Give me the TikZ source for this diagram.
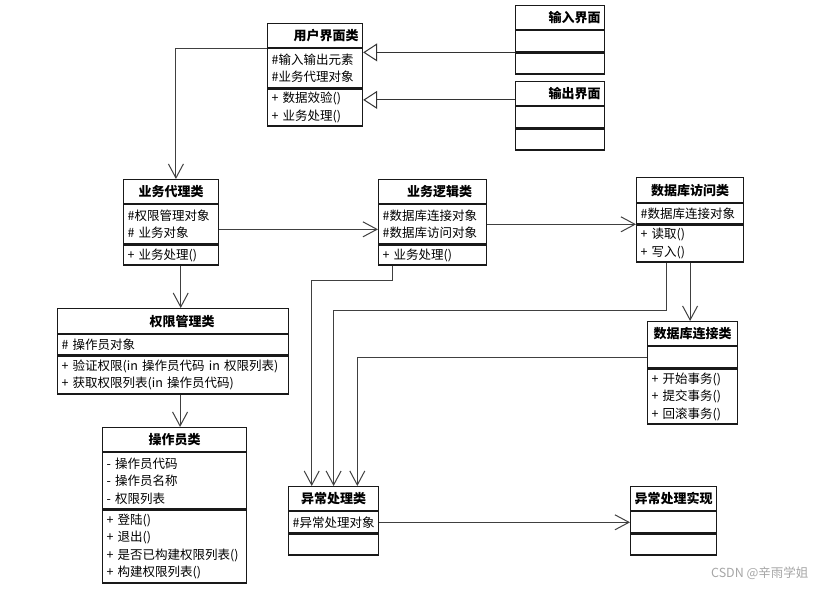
\documentclass[tikz,border=0pt]{standalone}
\usepackage{fontspec}
\setmainfont{Noto Sans CJK SC}
\usetikzlibrary{positioning,calc,arrows.meta}

\tikzset{
  ttl/.style={draw=black!90, line width=1.2pt, anchor=north west, inner xsep=4pt, inner ysep=0pt, align=center, font=\bfseries\fontsize{13}{15}\selectfont},
  cmp/.style={draw=black!90, line width=1.2pt, inner xsep=4pt, inner ysep=0pt, align=left, font=\fontsize{12.5}{17.5}\selectfont},
  dep/.style={draw=black!75, line width=1pt, -{Straight Barb[length=14pt,width=15pt]}},
  gen/.style={draw=black!80, line width=1pt, -{Triangle[open,length=14pt,width=18pt,fill=white]}},
}

\begin{document}
\begin{tikzpicture}[x=1pt,y=1pt,yscale=-1,xscale=1]
        \useasboundingbox (0,0) rectangle (824,589);
        %Class: 用户界面类
        \node[ttl, align=right, text width=87pt, minimum height=24pt] (ui) at (267,23) {用户界面类};
        \node[cmp, text width=87pt, minimum height=39pt, below=0pt of ui] (ui-a) {\#输入输出元素\\\#业务代理对象};
        \node[cmp, text width=87pt, minimum height=37pt, below=0pt of ui-a] (ui-m) {+ 数据效验()\\+ 业务处理()};
        %Class: 输入界面
        \node[ttl, align=right, text width=81pt, minimum height=24pt] (in) at (515,5) {输入界面};
        \node[cmp, text width=81pt, minimum height=21pt, below=0pt of in] (in-a) {};
        \node[cmp, text width=81pt, minimum height=21pt, below=0pt of in-a] (in-m) {};
        %Class: 输出界面
        \node[ttl, align=right, text width=81pt, minimum height=24pt] (out) at (515,81) {输出界面};
        \node[cmp, text width=81pt, minimum height=21pt, below=0pt of out] (out-a) {};
        \node[cmp, text width=81pt, minimum height=21pt, below=0pt of out-a] (out-m) {};
        %Class: 业务代理类
        \node[ttl, text width=87pt, minimum height=24pt] (agent) at (123,179) {业务代理类};
        \node[cmp, text width=87pt, minimum height=39pt, below=0pt of agent] (agent-a) {\#权限管理对象\\\# 业务对象};
        \node[cmp, text width=87pt, minimum height=20pt, below=0pt of agent-a] (agent-m) {+ 业务处理()};
        %Class: 业务逻辑类
        \node[ttl, text width=100pt, minimum height=24pt] (logic) at (378,179) {\hspace*{14pt}业务逻辑类};
        \node[cmp, text width=100pt, minimum height=39pt, below=0pt of logic] (logic-a) {\#数据库连接对象\\\#数据库访问对象};
        \node[cmp, text width=100pt, minimum height=20pt, below=0pt of logic-a] (logic-m) {+ 业务处理()};
        %Class: 数据库访问类
        \node[ttl, text width=99pt, minimum height=25pt] (dba) at (636,177) {数据库访问类};
        \node[cmp, text width=99pt, minimum height=20pt, below=0pt of dba] (dba-a) {\#数据库连接对象};
        \node[cmp, text width=99pt, minimum height=37pt, below=0pt of dba-a] (dba-m) {+ 读取()\\+ 写入()};
        %Class: 数据库连接类
        \node[ttl, text width=82pt, minimum height=24pt] (dbc) at (647,321) {数据库连接类};
        \node[cmp, text width=82pt, minimum height=21pt, below=0pt of dbc] (dbc-a) {};
        \node[cmp, text width=82pt, minimum height=55pt, below=0pt of dbc-a] (dbc-m) {+ 开始事务()\\+ 提交事务()\\+ 回滚事务()};
        %Class: 权限管理类
        \node[ttl, text width=223pt, minimum height=25pt] (perm) at (57,308) {\hspace*{18pt}权限管理类};
        \node[cmp, text width=223pt, minimum height=20pt, below=0pt of perm] (perm-a) {\# 操作员对象};
        \node[cmp, text width=223pt, minimum height=38pt, below=0pt of perm-a] (perm-m) {+ 验证权限(in 操作员代码 in 权限列表)\\+ 获取权限列表(in 操作员代码)};
        %Class: 操作员类
        \node[ttl, text width=136pt, minimum height=24pt] (oper) at (102,427) {操作员类};
        \node[cmp, text width=136pt, minimum height=56pt, below=0pt of oper] (oper-a) {- 操作员代码\\- 操作员名称\\- 权限列表};
        \node[cmp, text width=136pt, minimum height=73pt, below=0pt of oper-a] (oper-m) {+ 登陆()\\+ 退出()\\+ 是否已构建权限列表()\\+ 构建权限列表()};
        %Class: 异常处理类
        \node[ttl, text width=82pt, minimum height=24pt] (exc) at (288,486) {异常处理类};
        \node[cmp, text width=82pt, minimum height=21pt, below=0pt of exc] (exc-a) {\#异常处理对象};
        \node[cmp, text width=82pt, minimum height=21pt, below=0pt of exc-a] (exc-m) {};
        %Class: 异常处理实现
        \node[ttl, text width=78pt, minimum height=24pt] (impl) at (630,486) {异常处理实现};
        \node[cmp, text width=78pt, minimum height=21pt, below=0pt of impl] (impl-a) {};
        \node[cmp, text width=78pt, minimum height=21pt, below=0pt of impl-a] (impl-m) {};

        %Straight Lines: generalization
        \draw[gen] (in-m.north west) -- (in-m.north west -| ui-a.east);
        \draw[gen] ($(out.west)!.5!(out.south west)$) coordinate (g1) -- (g1 -| ui-m.east);
        %Straight Lines: ui to agent
        \draw[dep] (ui.south west) -| ($(agent.north west)!.55!(agent.north east)$);
        %Straight Lines: agent to perm, perm to oper
        \draw[dep] ($(agent-m.south west)!.6!(agent-m.south east)$) coordinate (d1) -- (d1 |- perm.north);
        \draw[dep] ($(perm-m.south west)!.53!(perm-m.south east)$) coordinate (d2) -- (d2 |- oper.north);
        %Straight Lines: agent to logic to dba to dbc
        \draw[dep] ($(agent-a.east)!.25!(agent-a.south east)$) coordinate (d3) -- (d3 -| logic-a.west);
        \draw[dep] (logic-a.east) -- (logic-a.east -| dba-m.west);
        \draw[dep] (dba-m.south) -- (dba-m.south |- dbc.north);
        %Straight Lines: into exc
        \draw[dep] ($(logic-m.south west)!.13!(logic-m.south east)$) -- ++(0,15) -| ($(exc.north west)!.26!(exc.north east)$);
        \draw[dep] ($(dba-m.south west)!.28!(dba-m.south east)$) -- ++(0,48) -| (exc.north);
        \draw[dep] (dbc-a.west) -| ($(exc.north west)!.76!(exc.north east)$);
        \draw[dep] (exc-a.east) -- (impl-a.west);

        % Text Node
        \node[anchor=east, text=black!35, font=\fontsize{12.5}{15}\selectfont] (mark) at (812,573) {CSDN @辛雨学姐};
\end{tikzpicture}
\end{document}
